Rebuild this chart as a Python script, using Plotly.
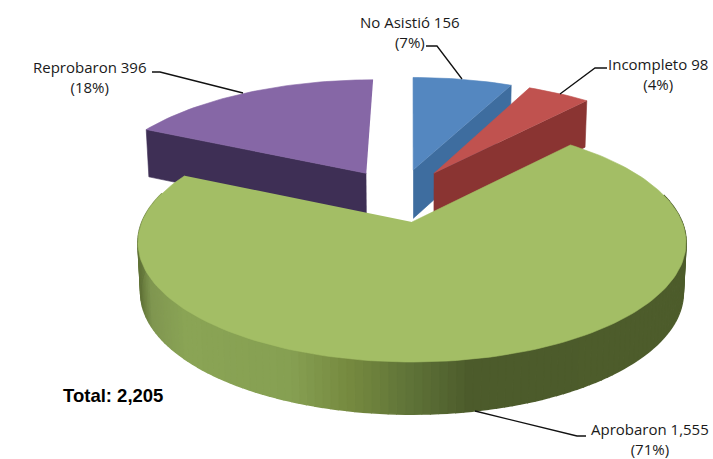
import math
import plotly.graph_objects as go

# ---- data ----
categories = ["No Asistió", "Incompleto", "Aprobaron", "Reprobaron"]
values = [156, 98, 1555, 396]
percents = [7, 4, 71, 18]
total_label = "Total: 2,205"

# ---- styles ----
top_colors = ["#5487C0", "#C0524F", "#A3BE65", "#8667A6"]
wall_colors = ["#3E6D9F", "#8A3432", "#5B6E35", "#3E2F55"]
rim_stops = [(137, "#5d6f35"), (150, "#7f9650"), (185, "#8aa455"), (290, "#86a052"),
             (350, "#75893f"), (410, "#5f7338"), (470, "#4c5b2b"), (690, "#4d5c2b")]
FONT = "Open Sans"

# ---- projection of the tilted, exploded pie ----
CX, CY = 412, 222          # apex of the largest slice on the page
A, B = 116, 270            # vertical / horizontal radius scale
P = 0.1716                 # perspective strength
H = 49.5                   # extrusion depth
Q = 0.05                   # perspective on the extrusion
EXPLODE = 0.248
total = sum(values)
main = values.index(max(values))


def project(x, y, drop=False):
    s = 1 + P * y
    px = CX + B * x / s
    py = CY - A * y / s
    if drop:
        px = CX + (px - CX) * 0.99
        py += H / (1 + Q * y)
    return px, py


spans, a = [], 0.0
for v in values:
    spans.append((a, a + 360 * v / total))
    a += 360 * v / total
mid = [math.radians((s + e) / 2) for s, e in spans]
ox, oy = math.sin(mid[main]) * EXPLODE, math.cos(mid[main]) * EXPLODE


def hexrgb(c):
    return tuple(int(c[i:i + 2], 16) for i in (1, 3, 5))


def rim_color(x):
    for (x0, c0), (x1, c1) in zip(rim_stops, rim_stops[1:]):
        if x <= x1:
            t = max(0, (x - x0) / (x1 - x0))
            r = [round(p + (q - p) * t) for p, q in zip(hexrgb(c0), hexrgb(c1))]
            return "rgb(%d,%d,%d)" % tuple(r)
    return rim_stops[-1][1]


fig = go.Figure()


def poly(pts, color, lw=0.6):
    fig.add_trace(go.Scatter(x=[p[0] for p in pts], y=[p[1] for p in pts], mode="lines",
                             fill="toself", fillcolor=color,
                             line=dict(color=color, width=lw),
                             hoverinfo="skip", showlegend=False))


def draw_slice(i):
    s, e = spans[i]
    x0 = math.sin(mid[i]) * EXPLODE - ox
    y0 = math.cos(mid[i]) * EXPLODE - oy
    rx, ry = (1.0, 1.0) if i == main else (1.06, 1.1)
    n = max(6, int((e - s) / 1.5))
    angs = [math.radians(s + (e - s) * k / n) for k in range(n + 1)]
    edge = [(x0 + rx * math.sin(t), y0 + ry * math.cos(t)) for t in angs]
    # radial walls, only those that face the viewer
    if math.sin(angs[0]) < -0.01:
        pt = edge[0]
        poly([project(x0, y0), project(*pt), project(*pt, True), project(x0, y0, True)], wall_colors[i])
    if -math.sin(angs[-1]) < -0.01:
        pt = edge[-1]
        poly([project(x0, y0), project(*pt), project(*pt, True), project(x0, y0, True)], wall_colors[i])
    # outer rim
    for p, q in zip(edge, edge[1:]):
        if (p[1] + q[1]) / 2 - y0 > 0.25:   # back of the rim is hidden
            continue
        a_, b_ = project(*p), project(*q)
        col = rim_color((a_[0] + b_[0]) / 2) if i == main else wall_colors[i]
        poly([a_, b_, project(*q, True), project(*p, True)], col, 1.6)
    # top face
    poly([project(x0, y0)] + [project(*p) for p in edge], top_colors[i])


for i in sorted(range(len(values)), key=lambda k: -math.cos(mid[k])):
    draw_slice(i)

# ---- labels and leader lines ----
label_xy = {0: (410, 32), 1: (658, 74), 3: (90, 77), 2: (650, 439)}
for i in [0, 1, 3, 2]:
    lx, ly = label_xy[i]
    fig.add_annotation(x=lx, y=ly, text=f"{categories[i]} {values[i]:,}<br>({percents[i]}%)",
                       showarrow=False, xanchor="center", yanchor="middle",
                       font=dict(family=FONT, size=15, color="#1a1a1a"))
fig.add_annotation(x=113, y=395, text=f"<b>{total_label}</b>", showarrow=False,
                   font=dict(family="Liberation Sans", size=18.5, color="#000000"))

leaders = ["M426,46 L437,46 L462,79", "M607,68 L595,68 L560,94",
           "M152,72 L160,72 L243,93", "M586,436 L577,436 L475,411"]
shapes = [dict(type="path", path=p, xref="x", yref="y",
               line=dict(color="#111111", width=1.3)) for p in leaders]

fig.update_layout(width=713, height=459, margin=dict(l=0, r=0, t=0, b=0),
                  paper_bgcolor="white", plot_bgcolor="white", shapes=shapes,
                  xaxis=dict(range=[0, 713], visible=False, fixedrange=True),
                  yaxis=dict(range=[459, 0], visible=False, fixedrange=True))
fig.write_html("out.html", config={"displayModeBar": False},
               post_script="document.body.style.margin='0';document.documentElement.style.overflow='hidden';")
